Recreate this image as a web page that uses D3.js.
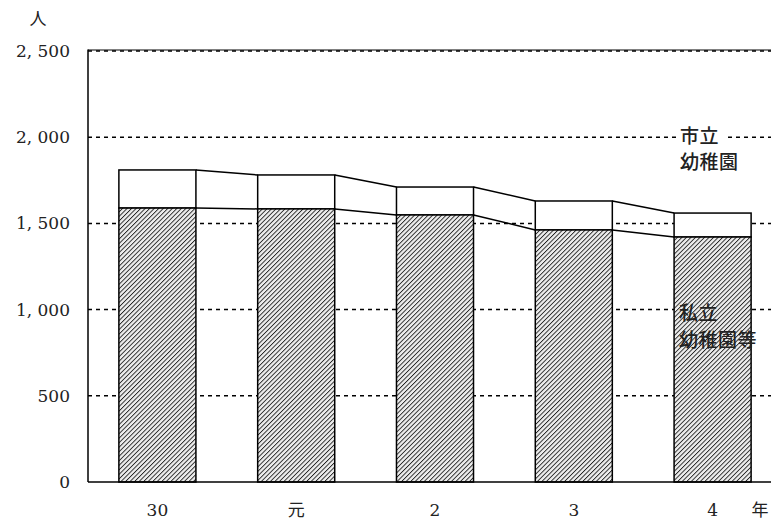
<!DOCTYPE html>
<html>
<head>
<meta charset="utf-8">
<script src="https://cdn.jsdelivr.net/npm/d3@7"></script>
<style>
  body { margin: 0; background: #fff; }
</style>
</head>
<body>
<div id="vis"></div>
<script>
const FRAME_WIDTH = 771;
const FRAME_HEIGHT = 528;

const years = ["30", "元", "2", "3", "4"];
const totals = [1810, 1781, 1711, 1630, 1560];
const privateVals = [1589, 1584, 1549, 1462, 1421];
const yTicks = [0, 500, 1000, 1500, 2000, 2500];

const SERIF = "'DejaVu Serif', 'Liberation Serif', serif";
const SANS_JP = "'Noto Sans CJK JP', sans-serif";

const FRAME = d3.select("#vis")
  .append("svg")
  .attr("width", FRAME_WIDTH)
  .attr("height", FRAME_HEIGHT);

// hatch pattern for the private kindergarten part
const defs = FRAME.append("defs");
const pat = defs.append("pattern")
  .attr("id", "hatch")
  .attr("patternUnits", "userSpaceOnUse")
  .attr("width", 3.2)
  .attr("height", 3.2)
  .attr("patternTransform", "rotate(45)");
pat.append("rect").attr("width", 3.2).attr("height", 3.2).attr("fill", "#eee");
pat.append("line")
  .attr("x1", 0).attr("y1", 0).attr("x2", 0).attr("y2", 3.2)
  .attr("stroke", "#222").attr("stroke-width", 1.8);

const X_SCALE = d3.scaleBand()
  .domain(years)
  .range([88, 782])
  .paddingInner(0.445)
  .paddingOuter(0.2225);

const Y_SCALE = d3.scaleLinear()
  .domain([0, 2500])
  .range([482, 51]);

// dashed gridlines
FRAME.selectAll(".grid")
  .data(yTicks.filter(d => d > 0))
  .enter()
  .append("line")
  .attr("x1", 88)
  .attr("x2", FRAME_WIDTH)
  .attr("y1", d => Y_SCALE(d))
  .attr("y2", d => Y_SCALE(d))
  .attr("stroke", "#000")
  .attr("stroke-width", 1.5)
  .attr("stroke-dasharray", "4,4");

FRAME.append("line")
  .attr("x1", 88).attr("x2", FRAME_WIDTH)
  .attr("y1", Y_SCALE(2500) - 1).attr("y2", Y_SCALE(2500) - 1)
  .attr("stroke", "#000").attr("stroke-width", 1);

// connector lines between bars
const conn = d3.range(years.length - 1);
[totals, privateVals].forEach(vals => {
  FRAME.selectAll(null)
    .data(conn)
    .enter()
    .append("line")
    .attr("x1", i => X_SCALE(years[i]) + X_SCALE.bandwidth())
    .attr("x2", i => X_SCALE(years[i + 1]))
    .attr("y1", i => Y_SCALE(vals[i]))
    .attr("y2", i => Y_SCALE(vals[i + 1]))
    .attr("stroke", "#000")
    .attr("stroke-width", 1.5);
});

// city (top, white) part
FRAME.selectAll(".city")
  .data(years)
  .enter()
  .append("rect")
  .attr("x", d => X_SCALE(d))
  .attr("y", (d, i) => Y_SCALE(totals[i]))
  .attr("width", X_SCALE.bandwidth())
  .attr("height", (d, i) => Y_SCALE(privateVals[i]) - Y_SCALE(totals[i]))
  .attr("fill", "#fff")
  .attr("stroke", "#000")
  .attr("stroke-width", 1.5);

// private (hatched) part
FRAME.selectAll(".priv")
  .data(years)
  .enter()
  .append("rect")
  .attr("x", d => X_SCALE(d))
  .attr("y", (d, i) => Y_SCALE(privateVals[i]))
  .attr("width", X_SCALE.bandwidth())
  .attr("height", (d, i) => Y_SCALE(0) - Y_SCALE(privateVals[i]))
  .attr("fill", "url(#hatch)")
  .attr("stroke", "#000")
  .attr("stroke-width", 1.5);

// axes lines
FRAME.append("line")
  .attr("x1", 88).attr("x2", 88)
  .attr("y1", Y_SCALE(2500) - 1.5).attr("y2", Y_SCALE(0))
  .attr("stroke", "#000").attr("stroke-width", 1.5);
FRAME.append("line")
  .attr("x1", 88).attr("x2", FRAME_WIDTH)
  .attr("y1", Y_SCALE(0)).attr("y2", Y_SCALE(0))
  .attr("stroke", "#000").attr("stroke-width", 1.5);

// y tick labels
FRAME.selectAll(".ytick")
  .data(yTicks)
  .enter()
  .append("text")
  .attr("x", 70)
  .attr("y", d => Y_SCALE(d))
  .attr("dy", "0.35em")
  .attr("text-anchor", "end")
  .style("font-family", SERIF)
  .style("font-size", "17px")
  .attr("fill", "#222")
  .text(d => d3.format(",")(d).replace(",", ", "));

// x labels
FRAME.selectAll(".xtick")
  .data(years)
  .enter()
  .append("text")
  .attr("x", d => X_SCALE(d) + X_SCALE.bandwidth() / 2)
  .attr("y", 516)
  .attr("text-anchor", "middle")
  .style("font-family", d => /\d/.test(d) ? SERIF : SANS_JP)
  .style("font-size", "17px")
  .attr("fill", "#222")
  .text(d => d);

FRAME.append("text")
  .attr("x", 760).attr("y", 516)
  .attr("text-anchor", "middle")
  .style("font-family", SANS_JP)
  .style("font-size", "17px")
  .attr("fill", "#222")
  .text("年");

FRAME.append("text")
  .attr("x", 38).attr("y", 25)
  .attr("text-anchor", "middle")
  .style("font-family", SANS_JP)
  .style("font-size", "17px")
  .attr("fill", "#222")
  .text("人");

// series labels
FRAME.append("rect")
  .attr("x", 678).attr("y", 126).attr("width", 46).attr("height", 20)
  .attr("fill", "#fff");
const city = FRAME.append("text")
  .style("font-family", SANS_JP)
  .style("font-size", "19px")
  .style("font-weight", 500)
  .attr("letter-spacing", 0.5)
  .attr("fill", "#222");
city.append("tspan").attr("x", 680).attr("y", 143).text("市立");
city.append("tspan").attr("x", 680).attr("y", 169).text("幼稚園");

const priv = FRAME.append("text")
  .style("font-family", SANS_JP)
  .style("font-size", "19px")
  .style("font-weight", 500)
  .attr("letter-spacing", 0.5)
  .attr("fill", "#222");
priv.append("tspan").attr("x", 679).attr("y", 320).text("私立");
priv.append("tspan").attr("x", 679).attr("y", 347).text("幼稚園等");
</script>
</body>
</html>
